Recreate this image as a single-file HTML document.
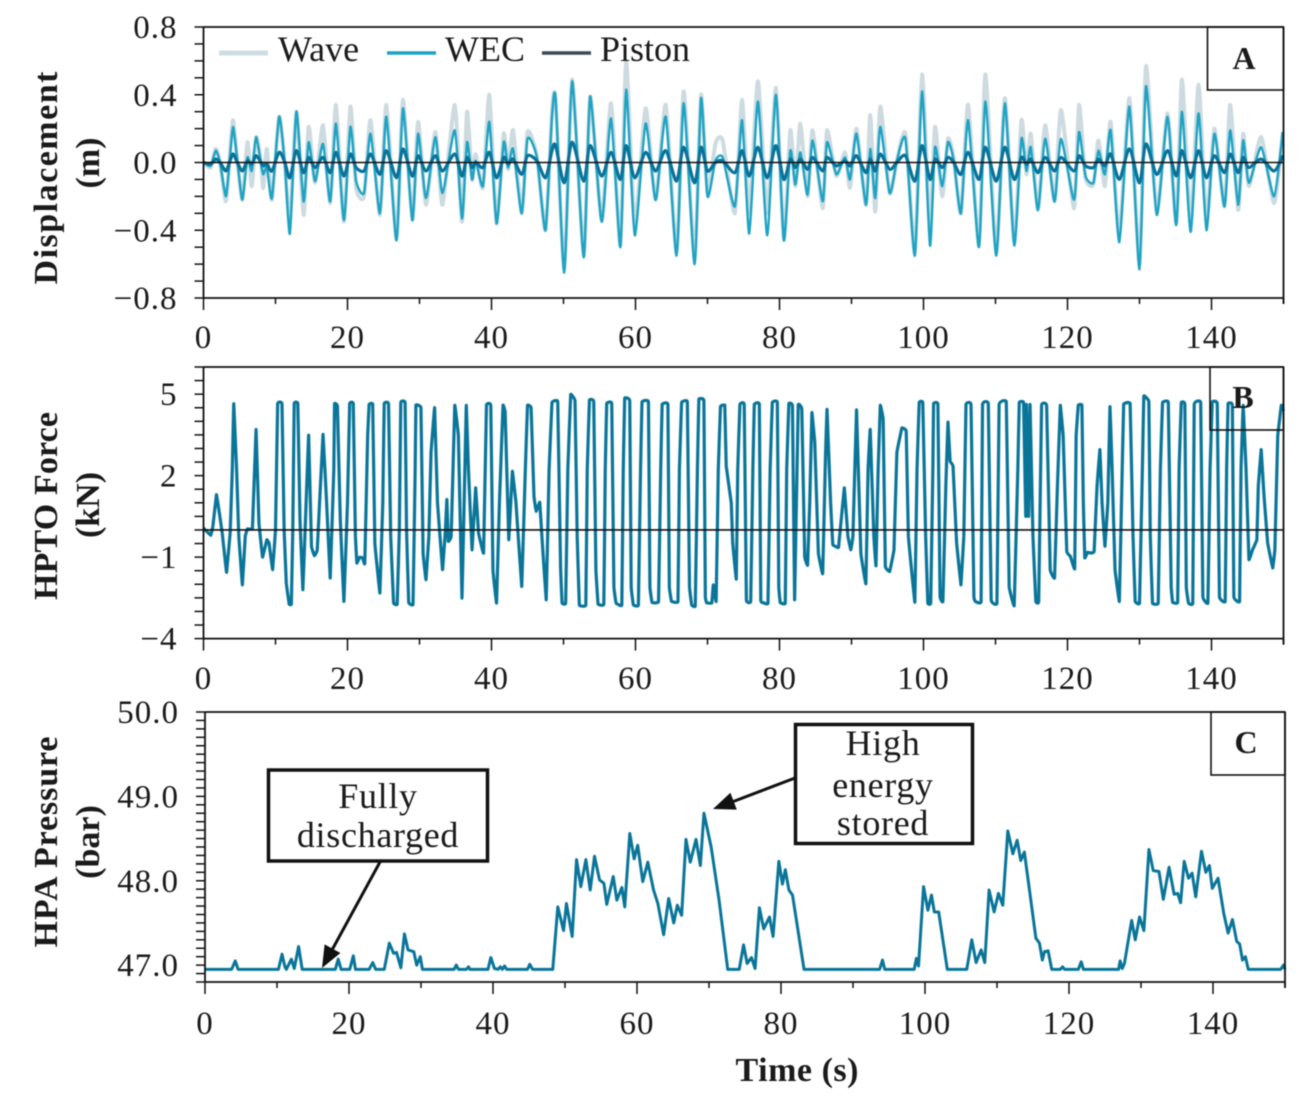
<!DOCTYPE html>
<html lang="en">
<head>
<meta charset="utf-8">
<title>WEC displacement, HPTO force and HPA pressure</title>
<style>
html,body{margin:0;padding:0;background:#fff;width:1312px;height:1101px;overflow:hidden}
svg{display:block;filter:blur(0.5px)}
text{font-family:"Liberation Serif",serif;fill:#1a1a1a}
.tick{font-size:33px;letter-spacing:1px}
.title{font-size:34px;font-weight:bold}
.legend{font-size:36px}
.note{font-size:36px;text-anchor:middle;letter-spacing:.7px}
.tag{font-size:32px;font-weight:bold;text-anchor:middle}
</style>
</head>
<body>
<svg id="chart" width="1312" height="1101" viewBox="0 0 1312 1101" xmlns="http://www.w3.org/2000/svg">
  <rect width="1312" height="1101" fill="#fff"/>
  <g id="marks"></g>

  <g>
    <line x1="219" y1="53" x2="268" y2="53" stroke="#cfdde2" stroke-width="5"/>
    <text class="legend" x="278" y="61">Wave</text>
    <line x1="387" y1="53" x2="436" y2="53" stroke="#1ea3c3" stroke-width="3.5"/>
    <text class="legend" x="445" y="61">WEC</text>
    <line x1="542" y1="53" x2="591" y2="53" stroke="#3c4a57" stroke-width="3.5"/>
    <text class="legend" x="600" y="61">Piston</text>
  </g>

  <g fill="none" stroke="#111" stroke-width="1.6">
    <rect x="1207.5" y="27" width="76" height="63"/>
    <rect x="1210" y="367" width="73.5" height="63"/>
    <rect x="1211" y="712" width="74" height="63"/>
  </g>
  <text class="tag" x="1244" y="69">A</text>
  <text class="tag" x="1243" y="408">B</text>
  <text class="tag" x="1246" y="753">C</text>

  <g>
    <text class="title" text-anchor="middle" textLength="213" lengthAdjust="spacing" transform="translate(57,178) rotate(-90)">Displacement</text>
    <text class="title" text-anchor="middle" transform="translate(99,163) rotate(-90)">(m)</text>
    <text class="title" text-anchor="middle" textLength="188" lengthAdjust="spacing" transform="translate(57,506) rotate(-90)">HPTO Force</text>
    <text class="title" text-anchor="middle" transform="translate(99,505) rotate(-90)">(kN)</text>
    <text class="title" text-anchor="middle" textLength="211" lengthAdjust="spacing" transform="translate(57,842) rotate(-90)">HPA Pressure</text>
    <text class="title" text-anchor="middle" transform="translate(99,842) rotate(-90)">(bar)</text>
    <text class="title" text-anchor="middle" textLength="123" lengthAdjust="spacing" x="797" y="1081">Time (s)</text>
  </g>

  <g>
    <line x1="380" y1="862" x2="332" y2="950" stroke="#111" stroke-width="3"/>
    <polygon points="322,968 340.4,953 324.6,944.4" fill="#111"/>
    <rect x="268.5" y="770" width="219" height="91" fill="#fff" stroke="#111" stroke-width="3.5"/>
    <text class="note" x="378" y="808">Fully</text>
    <text class="note" x="378" y="847">discharged</text>
  </g>
  <g>
    <line x1="795" y1="778" x2="732" y2="802" stroke="#111" stroke-width="3"/>
    <polygon points="713,809 736.8,809.6 730.4,792.8" fill="#111"/>
    <rect x="795.5" y="724.5" width="177" height="119" fill="#fff" stroke="#111" stroke-width="3.5"/>
    <text class="note" x="883" y="755">High</text>
    <text class="note" x="883" y="797">energy</text>
    <text class="note" x="883" y="835">stored</text>
  </g>
</svg>

<script>
const xTickValues = [0, 20, 40, 60, 80, 100, 120, 140];
const yTicksA = [0.8, 0.4, 0, -0.4, -0.8];
const yTickLabelsA = ["0.8", "0.4", "0.0", "\u22120.4", "\u22120.8"];
const yTicksB = [5, 2, -1, -4];
const yTickLabelsB = ["5", "2", "\u22121", "\u22124"];
const yTicksC = [50, 49, 48, 47];
const yTickLabelsC = ["50.0", "49.0", "48.0", "47.0"];

const timeA = [
0,1.0,1.7,2.3,3.1,3.6,4.1,4.7,5.4,6.1,
6.7,7.3,8.0,8.3,8.8,9.5,10.5,11.3,12.0,12.9,
13.9,14.6,15.5,16.6,17.6,18.4,19.5,20.4,21.2,22.3,
23.2,24.5,25.4,26.8,27.7,29.0,29.8,30.9,32.2,33.2,
34.9,35.9,36.6,37.3,37.8,38.8,39.7,40.7,41.7,42.3,
43.0,44.2,45.0,46.3,47.5,48.4,48.9,50.1,51.2,52.8,
53.7,55.3,56.6,57.9,58.7,59.9,61.4,62.8,64.2,65.7,
66.7,68.2,69.1,70.0,71.1,72.1,73.8,74.8,75.8,77.0,
78.3,79.5,80.6,81.5,82.2,82.9,83.9,84.6,86.0,86.6,
87.9,89.1,89.8,90.7,92.0,92.6,93.3,94.0,95.3,96.3,
97.5,98.8,99.8,100.9,101.6,102.6,103.4,104.2,105.2,106.2,
107.7,108.6,110.1,111.3,112.6,113.6,114.3,114.9,115.9,116.9,
118.2,119.1,120.9,121.6,122.5,123.6,124.3,125.2,126.0,127.2,
128.6,130.0,130.9,132.4,133.9,135.1,135.9,137.1,138.2,139.3,
140.4,141.8,142.6,143.7,144.4,145.2,146.9,148.7,149.9];

const waveDisp = [
0,-.03,.08,0,-.23,.02,.25,.01,-.22,.12,
-.14,.15,0,-.15,.08,-.22,.27,-.01,-.35,.30,
-.31,.21,-.12,.22,-.24,.34,-.35,.33,-.15,-.2,
.25,-.31,.34,-.45,.37,-.34,.24,-.25,.18,-.25,
.34,-.35,.30,-.10,.05,-.15,.40,-.36,.17,-.04,
.19,-.30,.18,.04,-.40,.3,.38,-.63,.49,-.55,
.39,-.34,.35,-.49,.60,-.37,.32,-.22,.34,-.53,
.42,-.57,.40,-.18,.11,.13,-.30,.37,-.30,.48,
-.30,.44,-.45,.19,-.14,.23,-.20,.19,-.27,.19,
-.08,.06,-.15,.20,-.25,.28,-.29,.33,-.18,.01,
.17,-.53,.52,-.4,.21,-.2,.14,.03,-.30,.34,
-.49,.52,-.53,.38,-.47,.25,-.07,.17,-.28,.22,
-.23,.31,-.27,.34,-.09,-.13,.13,-.14,.24,-.43,
.38,-.6,.57,-.29,.29,-.36,.49,-.36,.46,-.35,
.2,-.26,.34,-.28,.17,-.14,.15,-.24,.18];

const wecDisp = [
0,-.02,.07,0,-.20,-.01,.21,.01,-.22,.03,
-.05,.15,-.01,-.07,-.03,-.21,.27,-.01,-.42,.30,
-.23,.12,-.11,.11,-.23,.23,-.34,.21,-.11,-.18,
.17,-.30,.27,-.46,.32,-.34,.17,-.21,.15,-.18,
.19,-.33,.12,-.10,.01,-.14,.24,-.36,.12,-.03,
.08,-.30,.14,.03,-.40,.27,.38,-.65,.48,-.56,
.39,-.35,.26,-.50,.43,-.43,.23,-.22,.27,-.55,
.35,-.60,.38,-.20,.01,.03,-.26,.25,-.42,.36,
-.43,.40,-.46,.07,-.13,.06,-.19,.13,-.23,.12,
-.07,.03,-.10,.17,-.25,.08,-.21,.21,-.18,.01,
.14,-.55,.42,-.49,.09,-.14,.12,.01,-.30,.25,
-.50,.36,-.55,.35,-.49,.14,-.05,.09,-.28,.14,
-.23,.14,-.22,.18,-.08,-.12,.07,-.07,.19,-.47,
.33,-.63,.45,-.31,.27,-.37,.30,-.41,.29,-.40,
.17,-.26,.19,-.25,.13,-.12,.09,-.20,.18];

const pistonDisp = [
0,-.01,.02,0,-.05,0,.05,0,-.05,.01,
-.01,.04,0,-.02,-.01,-.05,.06,0,-.09,.07,
-.06,.03,-.03,.03,-.06,.06,-.08,.05,-.03,-.05,
.05,-.07,.07,-.09,.08,-.08,.04,-.05,.04,-.05,
.05,-.08,.03,-.03,0,-.03,.06,-.09,.03,-.01,
.02,-.07,.04,.01,-.09,.07,.10,-.12,.12,-.11,
.10,-.08,.06,-.10,.10,-.09,.06,-.05,.07,-.11,
.09,-.12,.09,-.05,0,.01,-.06,.07,-.08,.09,
-.09,.10,-.10,.02,-.03,.02,-.04,.03,-.05,.03,
-.02,.01,-.02,.04,-.06,.02,-.05,.05,-.04,0,
.04,-.11,.10,-.10,.02,-.03,.03,0,-.07,.06,
-.10,.09,-.11,.09,-.10,.03,-.01,.02,-.06,.03,
-.05,.03,-.05,.04,-.02,-.03,.02,-.02,.05,-.10,
.08,-.12,.11,-.07,.07,-.08,.07,-.09,.07,-.09,
.04,-.06,.05,-.06,.03,-.03,.02,-.05,.04];

const timeB = [
0,1.0,1.3,1.8,2.2,2.6,3.2,3.7,4.0,4.2,
4.6,4.9,5.4,5.8,6.1,6.8,7.3,7.7,8.2,8.8,
9.1,9.6,10.0,10.3,10.9,11.2,11.5,11.9,12.2,12.4,
12.6,13.1,13.4,13.8,14.1,14.6,15.0,15.4,15.8,16.6,
17.1,17.6,18.1,18.2,18.6,19.0,19.5,20.0,20.3,20.8,
21.1,21.3,21.7,22.1,22.4,22.8,23.0,23.5,23.8,24.5,
24.9,25.1,25.7,26.0,26.4,26.9,27.2,27.4,28.0,28.2,
28.5,29.1,29.4,29.5,30.2,30.5,30.9,31.3,31.6,32.1,
32.5,33.2,33.6,33.8,34.0,34.4,34.9,35.4,35.9,36.3,
36.5,36.8,37.3,37.8,38.2,38.9,39.3,39.9,40.2,40.7,
41.1,41.6,41.9,42.4,42.9,43.4,44.2,44.7,45.0,45.5,
45.9,46.2,46.7,47.0,47.6,48.0,48.4,49.2,49.6,49.8,
50.3,50.6,51.0,51.6,51.9,52.2,53.1,53.3,53.6,54.2,
54.5,54.8,55.6,55.8,56.0,56.7,57.0,57.3,58.1,58.3,
58.5,59.2,59.4,59.7,60.4,60.7,60.9,61.8,62.0,62.3,
63.2,63.5,63.7,64.5,64.7,65.0,65.9,66.1,66.4,67.2,
67.5,67.8,68.3,68.6,68.8,69.5,69.7,69.9,70.6,70.8,
71.2,71.5,71.8,72.4,72.6,73.3,73.5,74.0,74.2,74.5,
75.1,75.4,76.0,76.3,76.5,77.2,77.4,77.7,78.4,78.7,
79.0,79.7,79.9,80.1,80.8,81.0,81.3,81.8,82.1,82.6,
83.1,83.5,83.9,84.2,84.5,84.9,85.4,86.0,86.4,86.6,
87.1,87.4,88.2,89.0,89.5,89.9,90.2,90.7,91.3,92.0,
92.3,92.6,93.1,93.4,93.7,94.0,94.4,94.7,95.3,95.9,
96.3,97.0,97.6,97.9,98.8,99.1,99.4,99.9,100.3,100.6,
101.0,101.3,101.4,102.0,102.3,102.7,103.1,103.4,103.7,104.1,
104.6,105.2,105.6,105.9,106.6,107.0,107.2,108.0,108.2,109.0,
109.4,110.2,110.5,111.5,111.9,112.6,113.1,113.3,113.9,114.2,
114.3,114.6,114.8,115.2,115.6,116.0,116.4,117.1,117.6,118.2,
118.6,119.0,119.4,119.9,120.4,121.0,121.2,121.5,122.0,122.2,
122.4,122.8,123.3,123.7,124.1,124.5,124.8,125.2,125.6,125.9,
126.2,126.6,127.2,127.5,127.8,128.7,129.1,129.4,130.0,130.4,
130.6,131.3,131.5,131.8,132.6,132.9,133.2,134.0,134.4,134.6,
135.3,135.5,135.8,136.3,136.5,136.8,137.4,137.6,138.5,138.8,
139.5,139.8,140.1,140.8,141.1,141.9,142.1,142.3,142.9,143.1,
143.9,144.1,144.4,144.8,145.2,145.7,146.3,146.5,146.9,147.3,
147.8,148.5,148.8,149.2,149.7,150];

const hptoForce = [
.07,-.2,.13,1.3,.63,-.11,-1.56,-.11,2.23,4.65,
2.23,-.23,-2.02,-.23,.04,.07,3.7,.26,-1.0,-.36,
-.48,-1.46,0,4.65,4.65,0,-1.96,-2.73,-2.73,0,
4.65,4.65,.38,-2.2,-.11,3.49,-.6,-.95,-.73,3.52,
1.0,-1.77,2.23,4.65,4.56,.38,-2.63,1.0,4.65,4.65,
-.23,-1.22,-1.0,-1.03,-1.24,3.46,4.62,4.62,-.48,-2.32,
1.0,4.65,4.65,-.23,-2.69,-2.73,0,4.69,4.69,0,
-2.67,-2.73,2.23,4.59,4.5,-.85,-1.83,-.23,2.84,4.5,
1.0,-1.46,0,1.12,-.42,-.23,4.59,3.46,-2.51,2.23,
4.59,2.23,-.73,1.55,-.11,-.85,4.59,4.59,-1.46,-2.69,
1.0,4.59,4.32,-.36,2.16,1.0,-2.08,2.23,4.59,4.5,
1.24,.69,1.02,-.23,-2.57,2.23,4.69,4.72,-1.46,-2.69,
-2.69,2.23,4.99,4.75,-.23,-2.76,-2.76,2.23,4.78,4.72,
-1.46,-2.73,-2.73,2.23,4.65,4.65,-2.08,-2.69,-2.76,2.23,
4.85,4.75,-2.08,-2.76,-2.76,2.23,4.71,4.71,-2.08,-2.67,
-2.63,2.23,4.62,4.62,-2.08,-2.63,-2.63,2.23,4.69,4.71,
-2.08,-2.76,-2.79,2.23,4.81,4.75,-2.45,-2.69,-2.69,-2.02,
-2.63,2.23,4.54,4.59,2.35,1.0,-.48,-1.81,2.23,4.62,
4.62,-2.57,-2.63,2.23,4.62,4.62,-2.57,-2.67,-2.69,2.23,
4.69,4.69,-2.08,-2.67,-2.69,2.23,4.65,4.56,-2.57,4.59,
4.44,-.97,-1.3,1.0,4.32,3.21,-.85,-1.61,2.84,4.44,
1.0,-.54,-.64,1.55,-.23,-.73,-.23,4.42,-.85,-1.98,
2.23,3.7,-.23,-1.32,2.23,4.59,4.07,-1.34,-1.53,-.73,
2.84,3.76,3.64,-.23,-2.66,2.23,4.69,4.69,-.23,-2.69,
-2.69,2.23,4.65,4.62,-2.45,-2.63,1.61,3.97,2.53,2.35,
-.48,-2.02,-.23,4.62,4.62,-2.45,-2.63,-2.63,4.62,4.65,
-2.57,-2.69,4.62,4.71,-2.08,-2.79,2.23,4.69,4.69,.5,
4.62,.5,4.62,-.23,-2.63,-2.63,4.59,4.59,-1.46,-1.77,
1.61,4.59,3.46,-.79,-.97,-1.43,3.46,4.59,4.59,1.0,
-1.03,-.82,-.85,-.79,1.61,2.96,1.0,-.6,1.0,4.54,
2.23,-1.46,-2.63,1.0,4.62,4.65,-.23,-2.63,-2.69,2.23,
4.93,4.72,-.23,-2.69,-2.69,2.23,4.69,4.69,-2.08,-2.66,
-2.66,2.23,4.69,4.62,-2.08,-2.69,-2.69,4.62,4.69,-2.45,
-2.69,2.23,4.71,4.65,-2.45,-2.63,2.23,4.65,4.59,-2.45,
-2.63,2.23,4.59,2.23,-1.09,-.73,-.36,1.61,2.96,1.24,
-.48,-1.4,-.73,3.46,4.59,4.38];

const timeC = [
0,3.7,4.2,4.6,10.2,10.7,11.1,11.3,12.0,12.4,
13.0,13.5,18.1,18.5,18.9,20.1,20.6,20.9,22.8,23.3,
23.7,24.9,25.6,26.2,26.6,27.2,27.7,28.2,29.0,29.4,
29.9,30.2,34.6,34.9,35.2,36.3,36.6,36.8,39.3,39.7,
40.2,40.7,41.0,41.3,41.6,41.9,44.8,45.1,45.5,48.3,
49.0,49.8,50.2,51.0,51.6,52.2,52.9,53.5,54.1,54.8,
55.4,55.8,56.7,57.2,57.9,58.3,59.0,59.6,60.1,60.8,
61.5,62.3,62.9,63.7,64.4,65.1,65.6,66.2,66.8,67.4,
68.2,68.8,69.3,70.3,71.4,72.6,74.2,74.8,75.3,75.9,
76.4,77.0,77.6,78.4,78.9,79.7,80.2,80.6,81.1,81.6,
83.2,93.7,94.1,94.4,98.5,98.8,99.1,99.8,100.4,100.9,
101.3,101.9,103.1,105.8,106.5,107.1,107.8,108.3,108.9,109.6,
110.2,110.8,111.5,112.2,112.8,113.3,113.8,114.7,115.4,115.9,
116.3,116.6,117.1,117.6,118.8,119.1,119.4,121.3,121.7,122.0,
126.9,127.1,127.4,127.7,128.7,129.2,129.8,130.4,131.1,131.7,
132.5,133.1,133.9,134.6,135.1,135.5,136.0,136.6,137.1,137.6,
138.4,139.0,139.5,139.9,140.7,141.5,142.1,142.7,143.3,143.7,
144.1,144.5,144.9,149.4,149.8,150];

const hpaPressure = [
46.95,46.95,47.05,46.95,46.95,47.13,46.98,46.95,47.07,46.96,
47.22,46.95,46.95,47.07,46.95,46.95,47.11,46.95,46.95,47.03,
46.95,46.95,47.26,47.14,47.15,46.97,47.37,47.18,47.16,47.0,
47.1,46.95,46.95,47.0,46.95,46.95,46.98,46.95,46.95,47.09,
46.96,46.95,46.98,46.95,46.99,46.95,46.95,47.01,46.95,46.95,
47.69,47.41,47.73,47.34,48.25,47.93,48.25,47.89,48.29,48.01,
47.97,47.72,48.05,47.77,47.92,47.69,48.56,48.26,48.42,47.99,
48.22,47.89,47.73,47.36,47.79,47.5,47.71,47.59,48.49,48.22,
48.49,48.18,48.8,48.4,47.77,46.95,46.95,47.24,47.02,47.09,
46.96,47.68,47.43,47.57,47.34,48.23,47.96,48.13,47.89,47.83,
46.95,46.95,47.06,46.95,46.95,47.08,46.99,47.93,47.65,47.83,
47.63,47.63,46.95,46.95,47.3,47.03,47.18,47.03,47.89,47.63,
47.85,47.71,48.59,48.32,48.48,48.24,48.34,47.77,47.32,47.26,
47.06,47.16,47.17,46.95,46.95,46.98,46.95,46.95,47.04,46.95,
46.95,47.05,46.96,47.02,47.53,47.3,47.57,47.41,48.37,48.12,
48.11,47.78,48.16,47.84,47.85,47.74,48.23,48.03,48.09,47.81,
48.35,48.1,48.18,47.91,48.03,47.61,47.38,47.54,47.28,47.25,
47.06,47.1,46.95,46.95,47.0,46.95];

const NS = 'http://www.w3.org/2000/svg';
const marks = document.getElementById('marks');

function scaleLinear(d0, d1, r0, r1) {
  return function (v) { return r0 + (v - d0) * (r1 - r0) / (d1 - d0); };
}

function drawLine(parent, x1, y1, x2, y2, width, name) {
  const el = document.createElementNS(NS, 'line');
  el.setAttribute('x1', x1);
  el.setAttribute('y1', y1);
  el.setAttribute('x2', x2);
  el.setAttribute('y2', y2);
  el.setAttribute('stroke', '#111');
  el.setAttribute('stroke-width', width);
  
  
  parent.appendChild(el);
}

function drawLabel(parent, x, y, str, anchor, name) {
  const el = document.createElementNS(NS, 'text');
  el.setAttribute('x', x);
  el.setAttribute('y', y);
  el.setAttribute('class', 'tick');
  el.setAttribute('text-anchor', anchor);
  el.textContent = str;
  
  
  parent.appendChild(el);
}

function drawSeries(parent, xs, ys, sx, sy, color, width, tension, name) {
  const n = Math.min(xs.length, ys.length);
  const P = [];
  for (let i = 0; i < n; i++) {
    P.push([sx(xs[i]), sy(ys[i])]);
  }
  let d = 'M' + P[0][0].toFixed(2) + ' ' + P[0][1].toFixed(2);
  for (let i = 0; i < n - 1; i++) {
    const p0 = P[Math.max(i - 1, 0)];
    const p1 = P[i];
    const p2 = P[i + 1];
    const p3 = P[Math.min(i + 2, n - 1)];
    const c1x = p1[0] + (p2[0] - p0[0]) / 6 * tension;
    const c1y = p1[1] + (p2[1] - p0[1]) / 6 * tension;
    const c2x = p2[0] - (p3[0] - p1[0]) / 6 * tension;
    const c2y = p2[1] - (p3[1] - p1[1]) / 6 * tension;
    d += 'C' + c1x.toFixed(2) + ' ' + c1y.toFixed(2) + ' ' + c2x.toFixed(2) + ' ' + c2y.toFixed(2) + ' ' + p2[0].toFixed(2) + ' ' + p2[1].toFixed(2);
  }
  const el = document.createElementNS(NS, 'path');
  el.setAttribute('d', d);
  el.setAttribute('fill', 'none');
  el.setAttribute('stroke', color);
  el.setAttribute('stroke-width', width);
  el.setAttribute('stroke-linejoin', 'round');
  
  
  parent.appendChild(el);
}

function drawAxes(parent, p) {
  const L = p.left, R = p.right, T = p.top, B = p.bottom;
  drawLine(parent, L, T, R, T, 1.8, p.id + '-top-border');
  drawLine(parent, R, T, R, B + 6, 1.8, p.id + '-right-border');
  drawLine(parent, L, T, L, B, 1.8, p.id + '-y-axis');
  drawLine(parent, L, B, R, B, 1.8, p.id + '-x-axis');

  for (let t = 0; t <= 150; t += 10) {
    const major = t % 20 === 0;
    drawLine(parent, p.sx(t), B, p.sx(t), B + (major ? 12 : 6), 1.5, p.id + '-x-tick');
  }
  xTickValues.forEach(function (t) {
    drawLabel(parent, p.sx(t), p.xLabelY, String(t), 'middle', p.id + '-x-label');
  });

  const steps = Math.round((p.yMax - p.yMin) / p.minorStep);
  for (let i = 0; i <= steps; i++) {
    const v = p.yMin + i * p.minorStep;
    drawLine(parent, L - 9, p.sy(v), L, p.sy(v), 1.5, p.id + '-y-tick');
  }
  p.yTicks.forEach(function (v, i) {
    drawLabel(parent, L - 26, p.sy(v) + 11, p.yLabels[i], 'end', p.id + '-y-label');
  });
}

const sxA = scaleLinear(0, 150, 203.5, 1283.5);
const syA = scaleLinear(-0.8, 0.8, 298, 27);
const sxC = scaleLinear(0, 150, 205, 1285);
const syB = scaleLinear(-4, 6, 638.6, 367);
const syC = scaleLinear(46.8, 50, 982, 712);

const seriesGroup = document.createElementNS(NS, 'g');


marks.appendChild(seriesGroup);

const axisGroup = document.createElementNS(NS, 'g');


marks.appendChild(axisGroup);

drawSeries(seriesGroup, timeA, waveDisp, sxA, syA, '#cddbe0', 4, 0.6, 'wave-series');
drawSeries(seriesGroup, timeA, wecDisp, sxA, syA, '#1ea3c3', 2.4, 0.6, 'wec-series');
drawSeries(seriesGroup, timeA, pistonDisp, sxA, syA, '#0a7299', 3.2, 0.8, 'piston-series');
drawLine(seriesGroup, sxA(0), syA(0), sxA(150), syA(0), 1.6, 'panel-a-zero-line');

drawSeries(seriesGroup, timeB, hptoForce, sxA, syB, '#0a7599', 3.2, 0.1, 'hpto-force-series');
drawLine(seriesGroup, sxA(0), syB(0), sxA(150), syB(0), 1.6, 'panel-b-zero-line');

drawSeries(seriesGroup, timeC, hpaPressure, sxC, syC, '#0a7599', 3, 0, 'hpa-pressure-series');

drawAxes(axisGroup, {id: 'panel-a', left: 203.5, right: 1283.5, top: 27, bottom: 298, sx: sxA, sy: syA,
  yMin: -0.8, yMax: 0.8, minorStep: 0.1, yTicks: yTicksA, yLabels: yTickLabelsA, xLabelY: 348});
drawAxes(axisGroup, {id: 'panel-b', left: 203.5, right: 1283.5, top: 367, bottom: 638.6, sx: sxA, sy: syB,
  yMin: -4, yMax: 6, minorStep: 0.5, yTicks: yTicksB, yLabels: yTickLabelsB, xLabelY: 689});
drawAxes(axisGroup, {id: 'panel-c', left: 205, right: 1285, top: 712, bottom: 982, sx: sxC, sy: syC,
  yMin: 46.8, yMax: 50, minorStep: 0.1, yTicks: yTicksC, yLabels: yTickLabelsC, xLabelY: 1034});
</script>
</body>
</html>
